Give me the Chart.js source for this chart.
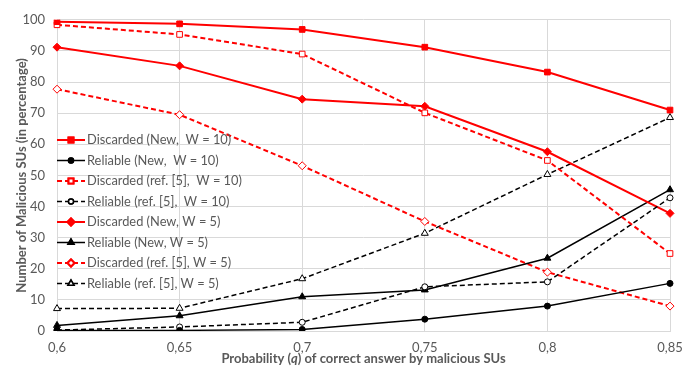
<!DOCTYPE html>
<html>
<head>
<meta charset="utf-8">
<script src="https://cdn.jsdelivr.net/npm/chart.js@4.4.1/dist/chart.umd.min.js"></script>
<style>
  html, body { margin: 0; padding: 0; background: #fff; }
  #wrap { width: 694px; height: 369px; }
</style>
</head>
<body>
<div id="wrap"><canvas id="chart"></canvas></div>
<script>
const labels = ['0,6', '0,65', '0,7', '0,75', '0,8', '0,85'];
const yTicks = [0, 10, 20, 30, 40, 50, 60, 70, 80, 90, 100];

const discNew10 = [99.4, 98.7, 96.9, 91.2, 83.2, 71.0];
const relNew10  = [0.2, 0.2, 0.5, 3.8, 8.0, 15.3];
const discRef10 = [98.4, 95.3, 89.0, 70.1, 54.8, 24.9];
const relRef10  = [0.3, 1.3, 2.8, 14.2, 15.8, 42.8];
const discNew5  = [91.2, 85.2, 74.5, 72.2, 57.6, 37.8];
const relNew5   = [1.8, 4.9, 11.0, 13.2, 23.4, 45.4];
const discRef5  = [77.7, 69.5, 53.1, 35.2, 18.9, 8.0];
const relRef5   = [7.2, 7.3, 16.8, 31.4, 50.3, 68.6];

const names = [
  'Discarded (New,  W = 10)',
  'Reliable (New,  W = 10)',
  'Discarded (ref. [5],  W = 10)',
  'Reliable (ref. [5],  W = 10)',
  'Discarded (New, W = 5)',
  'Reliable (New, W = 5)',
  'Discarded (ref. [5], W = 5)',
  'Reliable (ref. [5], W = 5)'
];

const RED = '#ff0000';
const BLK = '#000000';
const GRAY = '#595959';
const FONT = 'Lato, "Liberation Sans", sans-serif';
const LEG_FONT = '"Liberation Sans Narrow", Lato, sans-serif';

function series(label, data, color, dashed, style, filled, radius) {
  return {
    label: label,
    data: data,
    borderColor: color,
    borderWidth: color === RED ? 2 : 1.5,
    borderDash: dashed ? [5, 3] : [],
    pointStyle: style,
    pointRadius: radius,
    pointHoverRadius: radius,
    pointBackgroundColor: filled ? color : '#ffffff',
    pointBorderColor: color,
    pointBorderWidth: 1,
    tension: 0,
    fill: false
  };
}

const datasets = [
  series(names[0], discNew10, RED, false, 'rect', true, 4),
  series(names[1], relNew10, BLK, false, 'circle', true, 3),
  series(names[2], discRef10, RED, true, 'rect', false, 4),
  series(names[3], relRef10, BLK, true, 'circle', false, 3),
  series(names[4], discNew5, RED, false, 'rectRot', true, 4),
  series(names[5], relNew5, BLK, false, 'triangle', true, 4),
  series(names[6], discRef5, RED, true, 'rectRot', false, 4),
  series(names[7], relRef5, BLK, true, 'triangle', false, 4)
];

// legend: line sample with marker, like the spreadsheet one
const legendPlugin = {
  id: 'lineLegend',
  afterDraw(chart) {
    const ctx = chart.ctx;
    const x0 = 57, x1 = 85, top = 140, step = 20.5;
    ctx.save();
    // size the text so the longest label is as wide as in the original
    ctx.font = '14px ' + LEG_FONT;
    const widest = Math.max(...chart.data.datasets.map(d => ctx.measureText(d.label).width));
    const size = Math.min(15, 14 * 155 / widest);
    chart.data.datasets.forEach((ds, i) => {
      const y = top + i * step;
      ctx.strokeStyle = ds.borderColor;
      ctx.lineWidth = ds.borderWidth;
      ctx.setLineDash(ds.borderDash);
      ctx.beginPath();
      ctx.moveTo(x0, y);
      ctx.lineTo(x1, y);
      ctx.stroke();
      ctx.setLineDash([]);
      Chart.helpers.drawPoint(ctx, {
        pointStyle: ds.pointStyle,
        radius: ds.pointRadius - 0.5,
        borderWidth: 1,
        rotation: 0
      }, (x0 + x1) / 2, y);
      ctx.fillStyle = ds.pointBackgroundColor;
      ctx.fill();
      ctx.strokeStyle = ds.pointBorderColor;
      ctx.stroke();
      ctx.fillStyle = GRAY;
      ctx.font = size.toFixed(2) + 'px ' + LEG_FONT;
      ctx.textBaseline = 'middle';
      ctx.textAlign = 'left';
      ctx.fillText(ds.label, x1 + 2, y);
    });
    ctx.restore();
  }
};

// x title with italic q
const xTitlePlugin = {
  id: 'xTitle',
  afterDraw(chart) {
    const ctx = chart.ctx;
    const area = chart.chartArea;
    const parts = [
      ['bold 13px ' + FONT, 'Probability ('],
      ['bold italic 13px ' + FONT, 'q'],
      ['bold 13px ' + FONT, ') of correct answer by malicious SUs']
    ];
    ctx.save();
    let total = 0;
    parts.forEach(p => { ctx.font = p[0]; total += ctx.measureText(p[1]).width; });
    let x = (area.left + area.right) / 2 - total / 2;
    ctx.fillStyle = GRAY;
    ctx.textBaseline = 'middle';
    ctx.textAlign = 'left';
    parts.forEach(p => {
      ctx.font = p[0];
      ctx.fillText(p[1], x, 359);
      x += ctx.measureText(p[1]).width;
    });
    ctx.restore();
  }
};

new Chart(document.getElementById('chart'), {
  type: 'line',
  data: { labels: labels, datasets: datasets },
  options: {
    responsive: true,
    maintainAspectRatio: false,
    animation: false,
    layout: { padding: { top: 13, right: 24, left: 0, bottom: 0 } },
    plugins: {
      legend: { display: false },
      tooltip: { enabled: false }
    },
    scales: {
      x: {
        offset: false,
        grid: { color: '#d9d9d9', drawTicks: false },
        border: { color: '#d9d9d9' },
        ticks: { color: GRAY, font: { size: 13, family: FONT }, padding: 9 },
        afterFit: s => { s.height = 38; }
      },
      y: {
        min: 0,
        max: 100,
        afterBuildTicks: s => { s.ticks = yTicks.map(v => ({ value: v })); },
        grid: { color: '#d9d9d9', drawTicks: false },
        border: { display: false },
        ticks: { color: GRAY, font: { size: 13, family: FONT }, padding: 12 },
        title: {
          display: true,
          text: 'Number of Malicious SUs (in percentage)',
          color: GRAY,
          font: { size: 13, weight: 'bold', family: FONT },
          padding: { top: 14, bottom: 4 }
        },
        afterFit: s => { s.width = 57; }
      }
    }
  },
  plugins: [legendPlugin, xTitlePlugin]
});
</script>
</body>
</html>
